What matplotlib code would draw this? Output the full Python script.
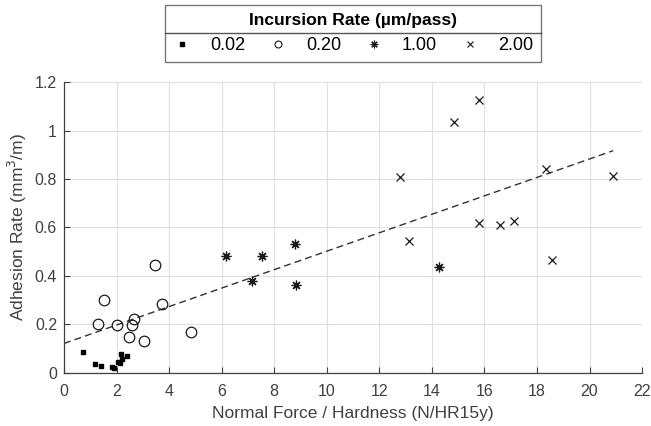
import numpy as np
import matplotlib.pyplot as plt
from matplotlib.lines import Line2D

plt.rcParams['font.family'] = ['Liberation Sans', 'DejaVu Sans']

# incursion rate 0.02 um/pass
x_002 = [0.71, 1.18, 1.41, 1.82, 1.90, 2.05, 2.12, 2.17, 2.20, 2.38]
y_002 = [0.087, 0.037, 0.026, 0.022, 0.021, 0.045, 0.040, 0.077, 0.057, 0.068]

# incursion rate 0.20 um/pass
x_020 = [1.28, 1.51, 2.00, 2.49, 2.60, 2.68, 3.03, 3.45, 3.74, 4.83]
y_020 = [0.201, 0.302, 0.196, 0.146, 0.198, 0.222, 0.131, 0.444, 0.284, 0.169]

# incursion rate 1.00 um/pass
x_100 = [6.15, 7.17, 7.52, 8.79, 8.82, 14.27]
y_100 = [0.482, 0.378, 0.482, 0.533, 0.361, 0.438]

# incursion rate 2.00 um/pass
x_200 = [12.77, 13.12, 14.86, 15.79, 15.80, 16.58, 17.12, 18.34, 18.59, 20.90]
y_200 = [0.807, 0.546, 1.035, 1.127, 0.620, 0.612, 0.627, 0.843, 0.464, 0.814]

rate_labels = ['0.02', '0.20', '1.00', '2.00']

# linear trend over all points
fit_intercept = 0.121
fit_slope = 0.0381
fit_x = [0.0, 20.9]

axis_col = '#404040'
mark_col = '#1a1a1a'

fig = plt.figure(figsize=(6.51, 4.26), dpi=100)
ax = fig.add_axes([0.0983, 0.125, 0.888, 0.682])

ax.plot(x_002, y_002, linestyle='none', marker='s', markersize=2.4,
        color='black')
ax.plot(x_020, y_020, linestyle='none', marker='o', markersize=7.6,
        markerfacecolor='none', markeredgecolor=mark_col, markeredgewidth=0.9)
ax.plot(x_100, y_100, linestyle='none', marker=(8, 2, 0), markersize=7,
        color=mark_col, markeredgewidth=0.9)
ax.plot(x_200, y_200, linestyle='none', marker='x', markersize=5.5,
        color=mark_col, markeredgewidth=0.9)

fx = np.array(fit_x)
ax.plot(fx, fit_intercept + fit_slope * fx, linestyle=(0, (5, 3)),
        color='#333333', linewidth=1.0, zorder=1)

ax.set_xlim(0, 22)
ax.set_ylim(0, 1.2)
ax.set_xticks(np.arange(0, 23, 2))
ax.set_yticks([0, 0.2, 0.4, 0.6, 0.8, 1.0, 1.2])
ax.set_yticklabels(['0', '0.2', '0.4', '0.6', '0.8', '1', '1.2'])
ax.grid(True, color='#e0e0e0', linewidth=0.8)
ax.set_axisbelow(True)
for side in ['top', 'right']:
    ax.spines[side].set_visible(False)
for side in ['left', 'bottom']:
    ax.spines[side].set_color(axis_col)
    ax.spines[side].set_linewidth(0.9)
ax.tick_params(direction='in', length=4, colors=axis_col, labelsize=11.5,
               labelcolor=axis_col)
ax.tick_params(axis='x', pad=8)
ax.tick_params(axis='y', pad=5)

ax.set_xlabel('Normal Force / Hardness (N/HR15y)', fontsize=12.5,
              color=axis_col, labelpad=5)
ax.set_ylabel(r'Adhesion Rate (mm$^3$/m)', fontsize=12.5, color=axis_col,
              labelpad=4)

# legend keys are drawn smaller than the plotted markers
handles = [
    Line2D([], [], linestyle='none', marker='s', markersize=2.2, color='black'),
    Line2D([], [], linestyle='none', marker='o', markersize=5,
           markerfacecolor='none', markeredgecolor=mark_col, markeredgewidth=0.8),
    Line2D([], [], linestyle='none', marker=(8, 2, 0), markersize=5.5,
           color=mark_col, markeredgewidth=0.8),
    Line2D([], [], linestyle='none', marker='x', markersize=4.2,
           color=mark_col, markeredgewidth=0.8),
]
leg = ax.legend(handles, rate_labels, ncol=4, loc='lower center',
                bbox_to_anchor=(0.5, 1.069), borderaxespad=0,
                title='Incursion Rate (\u00b5m/pass)', fontsize=13,
                title_fontproperties={'weight': 'bold', 'size': 12.6},
                frameon=True, fancybox=False, edgecolor='#555555',
                handletextpad=1.05, columnspacing=1.33, handlelength=1.0,
                borderpad=0.45)
leg.get_frame().set_linewidth(1.0)

# separator between the legend title and the entries
fig.canvas.draw()
lb = leg.get_window_extent()
tb = leg.get_title().get_window_extent()
eb = leg.get_texts()[0].get_window_extent()
sep_y = (tb.y0 + eb.y1) / 2 / fig.bbox.height
fig.add_artist(Line2D([lb.x0 / fig.bbox.width, lb.x1 / fig.bbox.width],
                      [sep_y, sep_y], transform=fig.transFigure,
                      color='#555555', linewidth=1.0))

fig.savefig('out.png', dpi=100)
